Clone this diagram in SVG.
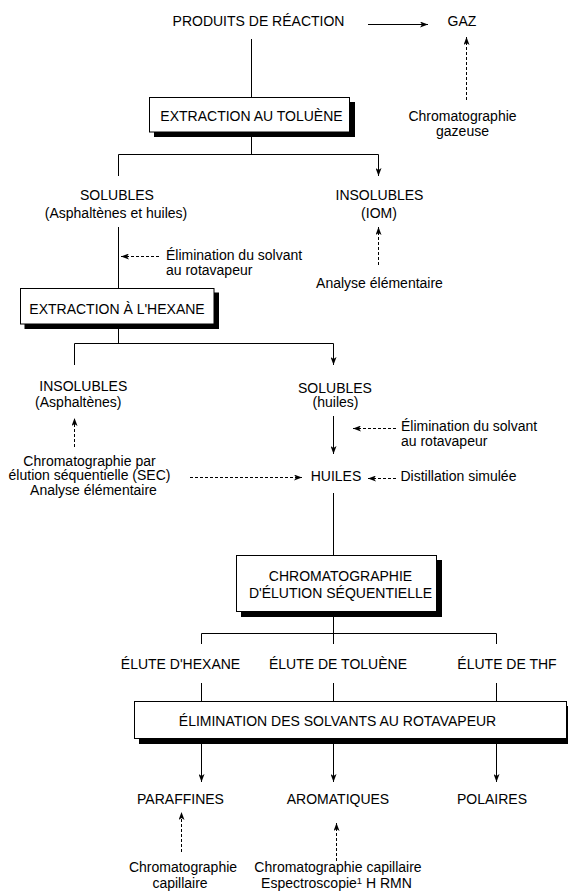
<svg xmlns="http://www.w3.org/2000/svg" width="568" height="891" viewBox="0 0 568 891">
<style>
.t{font-family:"Liberation Sans",Arial,Helvetica,sans-serif;font-size:14px;fill:#000;text-anchor:middle}
.s{text-anchor:start}
.c{stroke:#000;stroke-width:1;fill:none}
.d{stroke-dasharray:3 2}
.a{marker-end:url(#ah)}
.box{fill:#fff;stroke:#000;stroke-width:1}
.sh{fill:#000}
</style>
<defs>
<marker id="ah" markerUnits="userSpaceOnUse" viewBox="-8 -3 8 6" refX="0" refY="0" markerWidth="8" markerHeight="6" orient="auto">
<path d="M-8,-3 L0,0 L-8,3 L-6,0 Z" fill="#000" stroke="none"/>
</marker>
</defs>
<rect width="568" height="891" fill="#fff"/>
<g id="connectors">
<line class="c a" x1="368" y1="24.5" x2="428" y2="24.5"/>
<line class="c d a" x1="466.5" y1="100" x2="466.5" y2="37"/>
<line class="c" x1="251.5" y1="39" x2="251.5" y2="97"/>
<line class="c" x1="251.5" y1="137" x2="251.5" y2="154.5"/>
<polyline class="c a" points="118.5,176 118.5,154.5 378.5,154.5 378.5,176"/>
<line class="c" x1="118.5" y1="227" x2="118.5" y2="288"/>
<line class="c d a" x1="159" y1="256.5" x2="121" y2="256.5"/>
<line class="c d a" x1="378.5" y1="265" x2="378.5" y2="227"/>
<line class="c" x1="118.5" y1="329" x2="118.5" y2="343.5"/>
<polyline class="c a" points="74.5,365 74.5,343.5 333.5,343.5 333.5,365"/>
<line class="c d a" x1="74.5" y1="447" x2="74.5" y2="418"/>
<line class="c a" x1="333.5" y1="416" x2="333.5" y2="454"/>
<line class="c d a" x1="396" y1="428.5" x2="353" y2="428.5"/>
<line class="c d a" x1="190" y1="477.5" x2="302" y2="477.5"/>
<line class="c d a" x1="396" y1="478.5" x2="368" y2="478.5"/>
<line class="c" x1="333.5" y1="493" x2="333.5" y2="555"/>
<line class="c" x1="333.5" y1="617" x2="333.5" y2="633.5"/>
<polyline class="c" points="201.5,644 201.5,633.5 496.5,633.5 496.5,644"/>
<line class="c" x1="333.5" y1="633.5" x2="333.5" y2="644"/>
<line class="c" x1="201.5" y1="683" x2="201.5" y2="702"/>
<line class="c" x1="333.5" y1="683" x2="333.5" y2="702"/>
<line class="c" x1="496.5" y1="683" x2="496.5" y2="702"/>
<line class="c a" x1="201.5" y1="744" x2="201.5" y2="782"/>
<line class="c a" x1="333.5" y1="744" x2="333.5" y2="782"/>
<line class="c a" x1="496.5" y1="744" x2="496.5" y2="782"/>
<line class="c d a" x1="181.5" y1="852" x2="181.5" y2="812"/>
<line class="c d a" x1="336.5" y1="861" x2="336.5" y2="823"/>
</g>
<g id="produits"><text class="t" x="258.5" y="26">PRODUITS DE RÉACTION</text></g>
<g id="gaz"><text class="t" x="462" y="26">GAZ</text></g>
<g id="chrom-gaz"><text class="t" x="462.5" y="121">Chromatographie</text><text class="t" x="462.5" y="135.5">gazeuse</text></g>
<g id="extraction-toluene">
<rect class="sh" x="154" y="102" width="201" height="35"/>
<rect class="box" x="149.5" y="97.5" width="200" height="34.5"/>
<text class="t" x="251.5" y="121">EXTRACTION AU TOLUÈNE</text>
</g>
<g id="solubles1"><text class="t" x="117" y="200">SOLUBLES</text><text class="t" x="116" y="218">(Asphaltènes et huiles)</text></g>
<g id="insolubles1"><text class="t" x="379.5" y="200">INSOLUBLES</text><text class="t" x="379" y="218">(IOM)</text></g>
<g id="elim1"><text class="t s" x="166" y="260">Élimination du solvant</text><text class="t s" x="166" y="275">au rotavapeur</text></g>
<g id="analyse1"><text class="t" x="379.5" y="288">Analyse élémentaire</text></g>
<g id="extraction-hexane">
<rect class="sh" x="24.5" y="292.5" width="194.5" height="36.5"/>
<rect class="box" x="20.5" y="288.5" width="193.5" height="35.5"/>
<text class="t" x="117" y="314">EXTRACTION À L'HEXANE</text>
</g>
<g id="insolubles2"><text class="t" x="83.3" y="391">INSOLUBLES</text><text class="t" x="78.3" y="406.5">(Asphaltènes)</text></g>
<g id="analyses2"><text class="t" x="89.5" y="465.5">Chromatographie par</text><text class="t" x="89.5" y="480">élution séquentielle (SEC)</text><text class="t" x="93.5" y="494.5">Analyse élémentaire</text></g>
<g id="solubles2"><text class="t" x="335" y="392.5">SOLUBLES</text><text class="t" x="335.5" y="407">(huiles)</text></g>
<g id="elim2"><text class="t s" x="401" y="431">Élimination du solvant</text><text class="t s" x="401" y="445.5">au rotavapeur</text></g>
<g id="huiles"><text class="t" x="336" y="481">HUILES</text></g>
<g id="distillation"><text class="t s" x="400.5" y="481">Distillation simulée</text></g>
<g id="chrom-sequentielle">
<rect class="sh" x="241" y="560" width="201" height="57"/>
<rect class="box" x="236.5" y="555.5" width="200" height="56"/>
<text class="t" x="340.5" y="581">CHROMATOGRAPHIE</text>
<text class="t" x="340.5" y="597.5">D'ÉLUTION SÉQUENTIELLE</text>
</g>
<g id="elute-hexane"><text class="t" x="180.5" y="669">ÉLUTE D'HEXANE</text></g>
<g id="elute-toluene"><text class="t" x="338" y="669">ÉLUTE DE TOLUÈNE</text></g>
<g id="elute-thf"><text class="t" x="507" y="669">ÉLUTE DE THF</text></g>
<g id="elim-solvants">
<rect class="sh" x="139" y="706" width="440" height="38"/>
<rect class="box" x="134.5" y="701.5" width="432" height="37"/>
<text class="t" x="337.5" y="726">ÉLIMINATION DES SOLVANTS AU ROTAVAPEUR</text>
</g>
<g id="paraffines"><text class="t" x="180.5" y="803.5">PARAFFINES</text></g>
<g id="aromatiques"><text class="t" x="338" y="803.5">AROMATIQUES</text></g>
<g id="polaires"><text class="t" x="492" y="803.5">POLAIRES</text></g>
<g id="chrom-capillaire"><text class="t" x="183" y="872">Chromatographie</text><text class="t" x="180" y="887.5">capillaire</text></g>
<g id="chrom-spectro"><text class="t" x="338" y="872">Chromatographie capillaire</text><text class="t" x="336.5" y="887.5">Espectroscopie<tspan font-size="9.5" dy="-4">1</tspan><tspan dy="4"> H RMN</tspan></text></g>
</svg>
